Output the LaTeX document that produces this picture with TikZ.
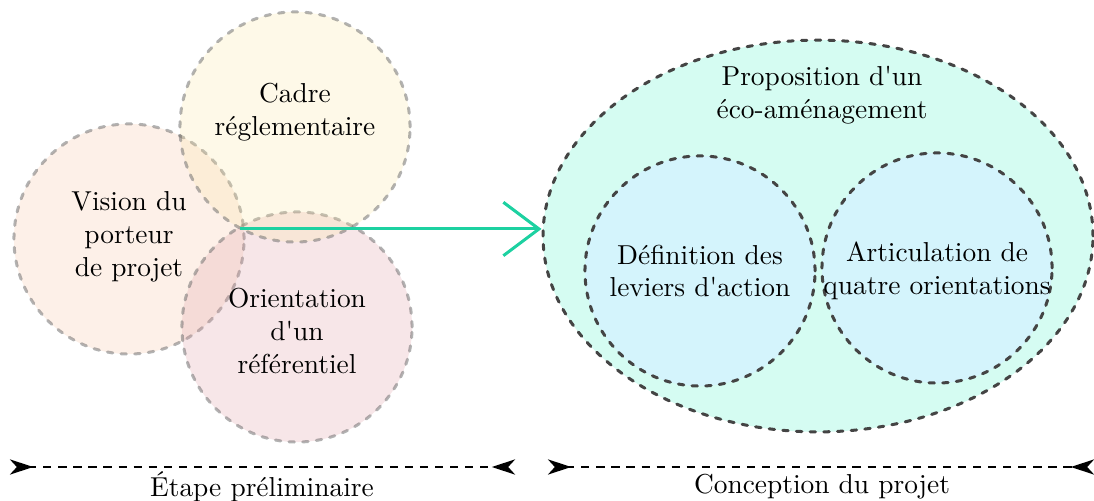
\documentclass[tikz,border=0pt]{standalone}
\usetikzlibrary{arrows.meta,shapes.geometric}
\definecolor{visionc}{RGB}{247,195,163}
\definecolor{cadrec}{RGB}{251,231,163}
\definecolor{orientc}{RGB}{223,155,163}
\definecolor{bigc}{RGB}{213,252,242}
\definecolor{innerc}{RGB}{212,244,252}
\definecolor{arrowgreen}{RGB}{29,209,161}
\definecolor{darkdash}{RGB}{68,68,68}
\begin{document}
\begin{tikzpicture}[x=0.365pt,y=-0.365pt,
  softcircle/.style={circle, inner sep=0pt, minimum size=84pt, draw=black!60,
    draw opacity=0.5, fill opacity=0.25, line width=1.1pt,
    dash pattern=on 2pt off 3pt, line cap=round},
  darkcircle/.style={circle, inner sep=0pt, minimum size=84pt, draw=darkdash,
    fill=innerc, line width=1.1pt, dash pattern=on 2pt off 3pt, line cap=round},
  lbl/.style={align=center, font=\normalsize, inner sep=1pt},
  phase/.style={line width=1pt, dash pattern=on 3pt off 2.5pt,
    {Stealth[reversed,length=8.5pt,width=5.5pt,inset=2.5pt]}-{Stealth[reversed,length=8.5pt,width=5.5pt,inset=2.5pt]}}
]
\useasboundingbox (0,0) rectangle (1094,501);

% left circles
\node[softcircle, fill=visionc] (vision) at (129,239) {};
\node[softcircle, fill=orientc] (orient) at (297,327) {};
\node[softcircle, fill=cadrec] (cadre) at (295,127) {};

\node[lbl] (tvision) at (129,237) {Vision du\\porteur\\de projet};
\node[lbl] (tcadre) at (295,112) {Cadre\\réglementaire};
\node[lbl] (torient) at (297,331) {Orientation\\d\textquotesingle un\\référentiel};

% right ellipse
\node[ellipse, inner sep=0pt, minimum width=200.75pt, minimum height=143pt,
  draw=darkdash, fill=bigc, line width=1.1pt, dash pattern=on 2pt off 3pt,
  line cap=round] (big) at (818,236) {};
\node[darkcircle] (defin) at (700,271) {};
\node[darkcircle] (artic) at (937,268) {};

\node[lbl] (tbig) at (822,95) {Proposition d\textquotesingle un\\éco-aménagement};
\node[lbl] (tdefin) at (700,271) {Définition des\\leviers d\textquotesingle action};
\node[lbl] (tartic) at (937,271) {Articulation de\\quatre orientations};

% green arrow
\coordinate (hub) at (240,229);
\draw[arrowgreen, line width=1.1pt, -{Straight Barb[length=13pt,width=19.5pt]}]
  (hub) -- (hub -| big.west);

% phases
\coordinate (a1) at (10,467);
\coordinate (a2) at (515,467);
\coordinate (b1) at (548,467);
\coordinate (b2) at (1094,467);
\draw[phase] (a1) -- (a2);
\draw[phase] (b1) -- (b2);
\node[lbl] (ta) at (262,487) {Étape préliminaire};
\node[lbl] (tb) at (822,487) {Conception du projet};
\end{tikzpicture}
\end{document}
